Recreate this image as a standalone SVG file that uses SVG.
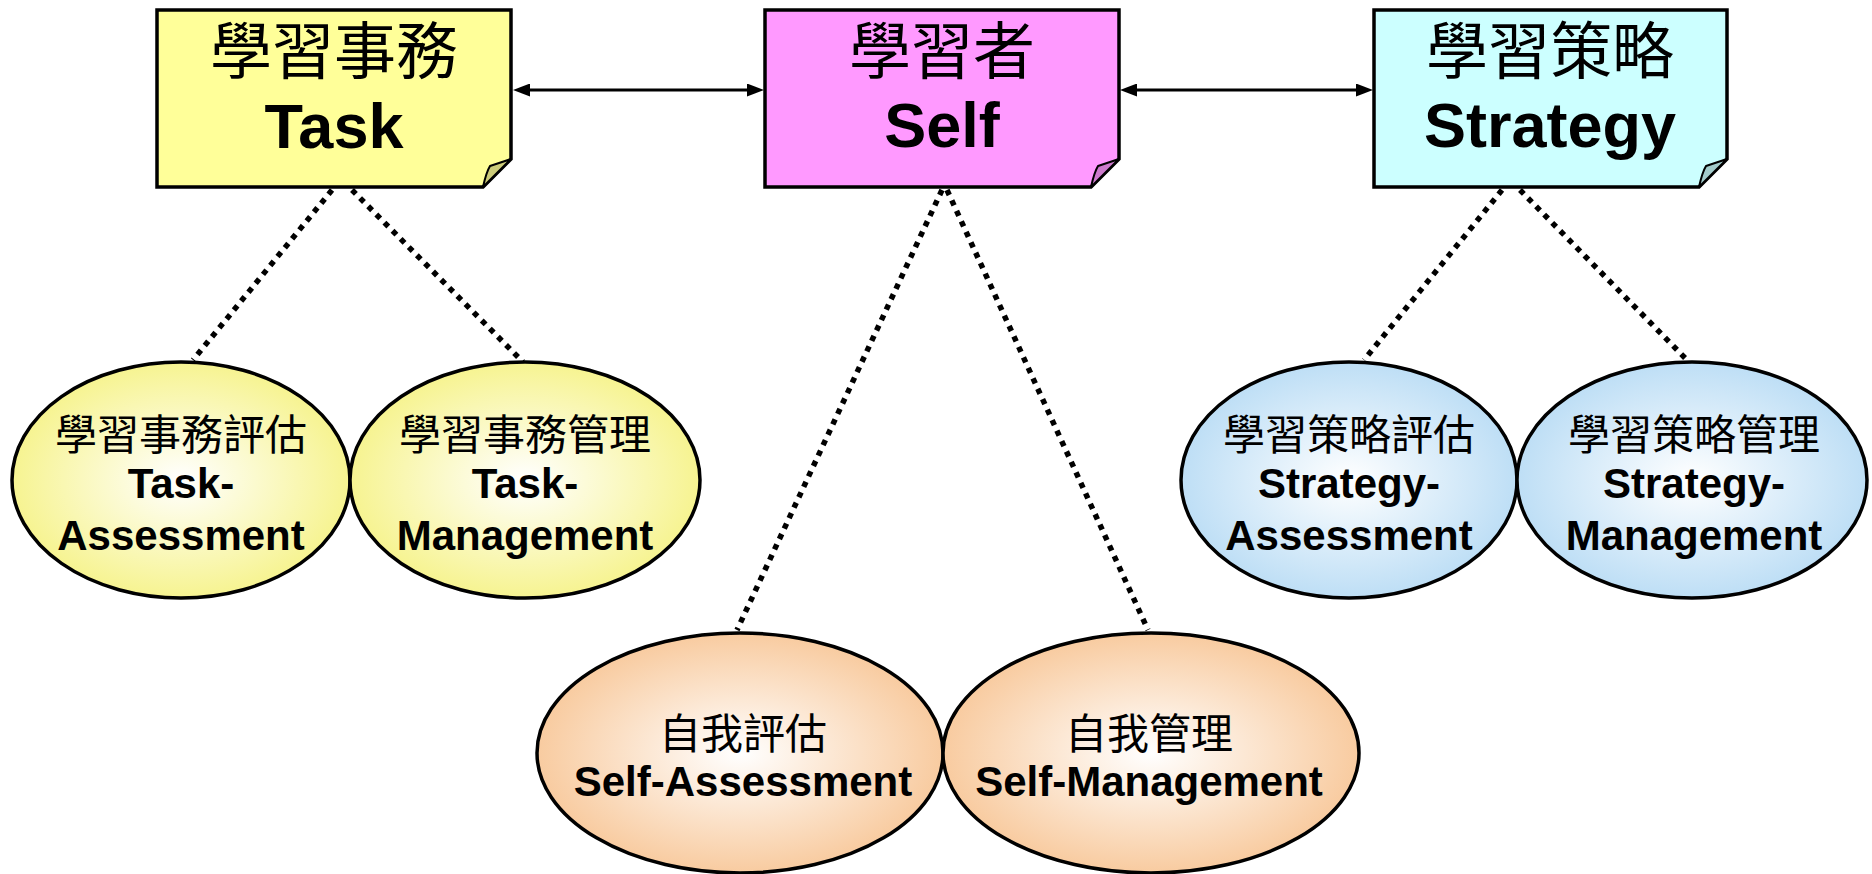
<svg xmlns="http://www.w3.org/2000/svg" width="1872" height="874" viewBox="0 0 1872 874">
<style>
.box{stroke:#000;stroke-width:3.5;stroke-linejoin:miter}
.fold{stroke:#000;stroke-width:2;stroke-linejoin:round}
.ell{stroke:#000;stroke-width:3.5}
.dot{stroke:#000;stroke-width:5.5;stroke-dasharray:5.5 6;fill:none}
.arr{stroke:#000;stroke-width:3;fill:none}
.cjk{font-family:"Noto Sans CJK TC","Noto Sans CJK SC",sans-serif;fill:#000;text-anchor:middle}
.en{font-family:"Liberation Sans",Arial,sans-serif;font-weight:bold;fill:#000;text-anchor:middle}
.big{font-size:62px}
.bigen{font-size:63px}
.mid{font-size:42px}
.miden{font-size:42px}
</style>
<defs>
<radialGradient id="gy" cx="50%" cy="50%" r="52%">
<stop offset="0" stop-color="#FFFFFF"/>
<stop offset="1" stop-color="#F6F38C"/>
</radialGradient>
<radialGradient id="gp" cx="50%" cy="50%" r="52%">
<stop offset="0" stop-color="#FFFFFF"/>
<stop offset="1" stop-color="#F8C99C"/>
</radialGradient>
<radialGradient id="gb" cx="50%" cy="50%" r="52%">
<stop offset="0" stop-color="#FFFFFF"/>
<stop offset="1" stop-color="#BBDDF5"/>
</radialGradient>
<marker id="ah" viewBox="0 0 17 13" refX="1" refY="6.5" markerWidth="17" markerHeight="13" markerUnits="userSpaceOnUse" orient="auto-start-reverse">
<path d="M0,0 L17,6.5 L0,13 Z" fill="#000"/>
</marker>
</defs>
<g id="connectors">
<line class="dot" x1="332" y1="190" x2="193" y2="360"/>
<line class="dot" x1="352" y1="190" x2="523" y2="362"/>
<line class="dot" x1="942" y1="190" x2="737" y2="630"/>
<line class="dot" x1="947" y1="190" x2="1148" y2="630"/>
<line class="dot" x1="1502" y1="190" x2="1364" y2="360"/>
<line class="dot" x1="1520" y1="190" x2="1689" y2="362"/>
<line class="arr" x1="529" y1="90" x2="748" y2="90" marker-start="url(#ah)" marker-end="url(#ah)"/>
<line class="arr" x1="1136" y1="90" x2="1357" y2="90" marker-start="url(#ah)" marker-end="url(#ah)"/>
</g>
<g id="task">
<path class="box" d="M157,10 H511 V159 L483,187 H157 Z" fill="#FFFF99"/>
<path class="fold" d="M483,187 C485,178 487,171 490,166 L511,159 Z" fill="#CCCC7A"/>
<text class="cjk big" x="334" y="74">學習事務</text>
<text class="en bigen" x="334" y="148">Task</text>
</g>
<g id="self">
<path class="box" d="M765,10 H1119 V159 L1091,187 H765 Z" fill="#FF99FF"/>
<path class="fold" d="M1091,187 C1093,178 1095,171 1098,166 L1119,159 Z" fill="#CC7ACC"/>
<text class="cjk big" x="942" y="74">學習者</text>
<text class="en bigen" x="942" y="147">Self</text>
</g>
<g id="strategy">
<path class="box" d="M1374,10 H1727 V159 L1699,187 H1374 Z" fill="#CCFFFF"/>
<path class="fold" d="M1699,187 C1701,178 1703,171 1706,166 L1727,159 Z" fill="#A3CCCC"/>
<text class="cjk big" x="1550" y="74">學習策略</text>
<text class="en bigen" x="1550" y="147">Strategy</text>
</g>
<g id="task-assessment">
<ellipse class="ell" cx="181" cy="480" rx="169" ry="118" fill="url(#gy)"/>
<text class="cjk mid" x="181" y="450">學習事務評估</text>
<text class="en miden" x="181" y="498">Task-</text>
<text class="en miden" x="181" y="550">Assessment</text>
</g>
<g id="task-management">
<ellipse class="ell" cx="525" cy="480" rx="175" ry="118" fill="url(#gy)"/>
<text class="cjk mid" x="525" y="450">學習事務管理</text>
<text class="en miden" x="525" y="498">Task-</text>
<text class="en miden" x="525" y="550">Management</text>
</g>
<g id="self-assessment">
<ellipse class="ell" cx="740" cy="753" rx="203" ry="120" fill="url(#gp)"/>
<text class="cjk mid" x="743" y="749">自我評估</text>
<text class="en miden" x="743" y="796">Self-Assessment</text>
</g>
<g id="self-management">
<ellipse class="ell" cx="1151" cy="753" rx="208" ry="120" fill="url(#gp)"/>
<text class="cjk mid" x="1149" y="749">自我管理</text>
<text class="en miden" x="1149" y="796">Self-Management</text>
</g>
<g id="strategy-assessment">
<ellipse class="ell" cx="1349" cy="480" rx="168" ry="118" fill="url(#gb)"/>
<text class="cjk mid" x="1349" y="450">學習策略評估</text>
<text class="en miden" x="1349" y="498">Strategy-</text>
<text class="en miden" x="1349" y="550">Assessment</text>
</g>
<g id="strategy-management">
<ellipse class="ell" cx="1692" cy="480" rx="175" ry="118" fill="url(#gb)"/>
<text class="cjk mid" x="1694" y="450">學習策略管理</text>
<text class="en miden" x="1694" y="498">Strategy-</text>
<text class="en miden" x="1694" y="550">Management</text>
</g>
</svg>
